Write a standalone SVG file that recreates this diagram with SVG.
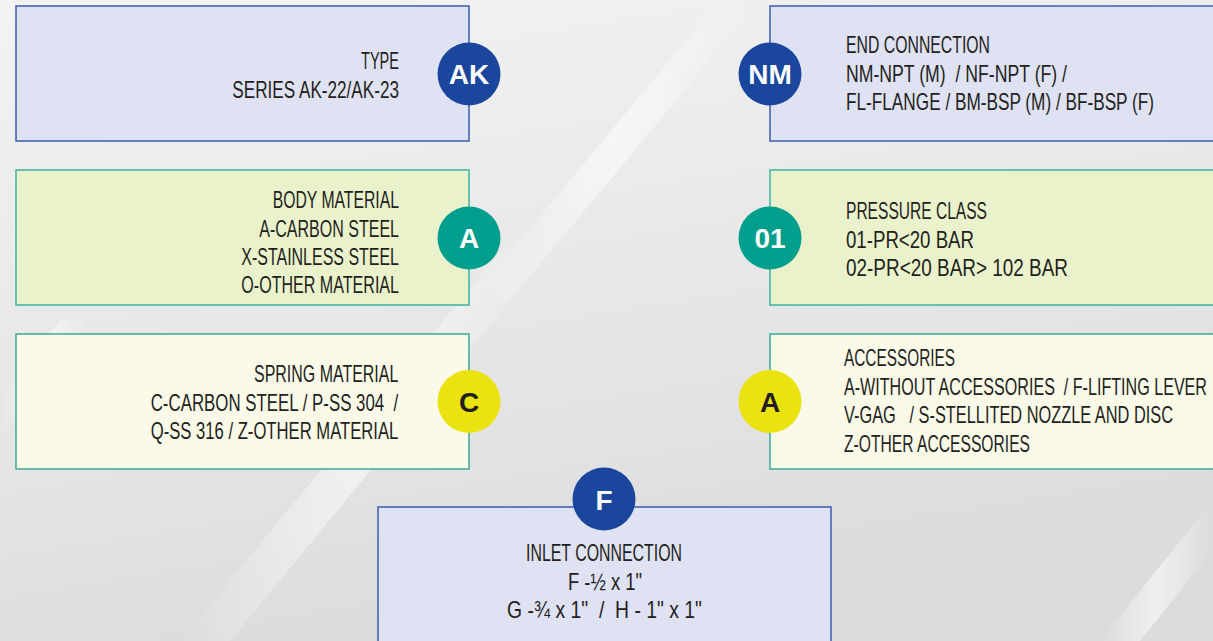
<svg xmlns="http://www.w3.org/2000/svg" width="1213" height="641" viewBox="0 0 1213 641">
<defs>
<linearGradient id="bg" x1="0" y1="0" x2="0.3" y2="1">
<stop offset="0" stop-color="#f3f3f3"/>
<stop offset="0.6" stop-color="#e6e6e6"/>
<stop offset="1" stop-color="#dcdcdc"/>
</linearGradient>
<linearGradient id="streak" x1="0" y1="0" x2="1" y2="0">
<stop offset="0" stop-color="#ffffff" stop-opacity="0"/>
<stop offset="0.5" stop-color="#ffffff" stop-opacity="0.8"/>
<stop offset="1" stop-color="#ffffff" stop-opacity="0"/>
</linearGradient>
<style>
.blue{fill:#dfe2f3;stroke:#3b5eae;stroke-width:1.5}
.green{fill:#eaf2cc;stroke:#3bb3a0;stroke-width:1.5}
.yellow{fill:#fbfae9;stroke:#3aa99a;stroke-width:1.5}
.cb{fill:#1a479d}
.ct{fill:#009e8c}
.cy{fill:#ebe30f}
.t{font-family:"Liberation Sans",Arial,sans-serif;font-size:24px;fill:#231f20;white-space:pre}
.ci{font-family:"Liberation Sans",Arial,sans-serif;font-size:28px;font-weight:bold;fill:#ffffff;text-anchor:middle}
.cid{font-family:"Liberation Sans",Arial,sans-serif;font-size:28px;font-weight:bold;fill:#231f20;text-anchor:middle}
</style>
</defs>
<rect width="1213" height="641" fill="url(#bg)"/>
<g opacity="0.7">
<polygon points="470,300 510,300 760,0 720,0" fill="url(#streak)"/>
<polygon points="180,641 230,641 560,240 510,240" fill="url(#streak)"/>
<polygon points="0,400 0,440 90,320 60,320" fill="url(#streak)"/>
<polygon points="1100,641 1140,641 1213,550 1213,500" fill="url(#streak)"/>
</g>
<g id="connectors"/>
<g id="node-type">
<rect class="blue" x="16" y="6" width="453" height="135"/>
<circle class="cb" cx="469" cy="74" r="31.5"/>
<text class="ci" x="469" y="83.5">AK</text>
<text class="t" x="361" y="69.3" textLength="38" lengthAdjust="spacingAndGlyphs">TYPE</text>
<text class="t" x="232.3" y="97.7" textLength="166.7" lengthAdjust="spacingAndGlyphs">SERIES AK-22/AK-23</text>
</g>
<g id="node-end">
<rect class="blue" x="770" y="6" width="460" height="135"/>
<circle class="cb" cx="770" cy="74" r="31.5"/>
<text class="ci" x="770" y="83.5">NM</text>
<text class="t" x="846" y="53.3" textLength="144" lengthAdjust="spacingAndGlyphs">END CONNECTION</text>
<text class="t" x="846" y="81.7" textLength="221" lengthAdjust="spacingAndGlyphs">NM-NPT (M)  / NF-NPT (F) /</text>
<text class="t" x="846" y="110" textLength="308" lengthAdjust="spacingAndGlyphs">FL-FLANGE / BM-BSP (M) / BF-BSP (F)</text>
</g>
<g id="node-body">
<rect class="green" x="16" y="170" width="453" height="135"/>
<circle class="ct" cx="469" cy="238" r="31.5"/>
<text class="ci" x="469" y="248">A</text>
<text class="t" x="272.7" y="208.3" textLength="126.3" lengthAdjust="spacingAndGlyphs">BODY MATERIAL</text>
<text class="t" x="259.3" y="236.7" textLength="139.7" lengthAdjust="spacingAndGlyphs">A-CARBON STEEL</text>
<text class="t" x="241.3" y="265" textLength="157.7" lengthAdjust="spacingAndGlyphs">X-STAINLESS STEEL</text>
<text class="t" x="241.3" y="293.3" textLength="157.7" lengthAdjust="spacingAndGlyphs">O-OTHER MATERIAL</text>
</g>
<g id="node-pressure">
<rect class="green" x="770" y="170" width="460" height="135"/>
<circle class="ct" cx="770" cy="238" r="31.5"/>
<text class="ci" x="770" y="248">01</text>
<text class="t" x="846" y="219" textLength="141" lengthAdjust="spacingAndGlyphs">PRESSURE CLASS</text>
<text class="t" x="846" y="247.7" textLength="128" lengthAdjust="spacingAndGlyphs">01-PR&lt;20 BAR</text>
<text class="t" x="846" y="276" textLength="222" lengthAdjust="spacingAndGlyphs">02-PR&lt;20 BAR&gt; 102 BAR</text>
</g>
<g id="node-spring">
<rect class="yellow" x="16" y="334" width="453" height="135"/>
<circle class="cy" cx="469" cy="401.5" r="31.5"/>
<text class="cid" x="469" y="411.5">C</text>
<text class="t" x="254" y="381.7" textLength="144.3" lengthAdjust="spacingAndGlyphs">SPRING MATERIAL</text>
<text class="t" x="150.7" y="410.7" textLength="247.6" lengthAdjust="spacingAndGlyphs">C-CARBON STEEL / P-SS 304  /</text>
<text class="t" x="150.7" y="439" textLength="247.6" lengthAdjust="spacingAndGlyphs">Q-SS 316 / Z-OTHER MATERIAL</text>
</g>
<g id="node-accessories">
<rect class="yellow" x="770" y="334" width="460" height="135"/>
<circle class="cy" cx="770" cy="401.5" r="31.5"/>
<text class="cid" x="770" y="411.5">A</text>
<text class="t" x="844" y="366" textLength="111" lengthAdjust="spacingAndGlyphs">ACCESSORIES</text>
<text class="t" x="844" y="394.7" textLength="363" lengthAdjust="spacingAndGlyphs">A-WITHOUT ACCESSORIES  / F-LIFTING LEVER</text>
<text class="t" x="844" y="423.3" textLength="329" lengthAdjust="spacingAndGlyphs">V-GAG   / S-STELLITED NOZZLE AND DISC</text>
<text class="t" x="844" y="451.7" textLength="186" lengthAdjust="spacingAndGlyphs">Z-OTHER ACCESSORIES</text>
</g>
<g id="node-inlet">
<rect class="blue" x="378" y="507" width="453" height="150"/>
<circle class="cb" cx="604" cy="499" r="31.5"/>
<text class="ci" x="604" y="510">F</text>
<text class="t" x="526" y="561" textLength="156" lengthAdjust="spacingAndGlyphs">INLET CONNECTION</text>
<text class="t" x="568" y="590" textLength="74" lengthAdjust="spacingAndGlyphs">F -½ x 1"</text>
<text class="t" x="507" y="618.3" textLength="195" lengthAdjust="spacingAndGlyphs">G -¾ x 1"  /  H - 1" x 1"</text>
</g>
</svg>
